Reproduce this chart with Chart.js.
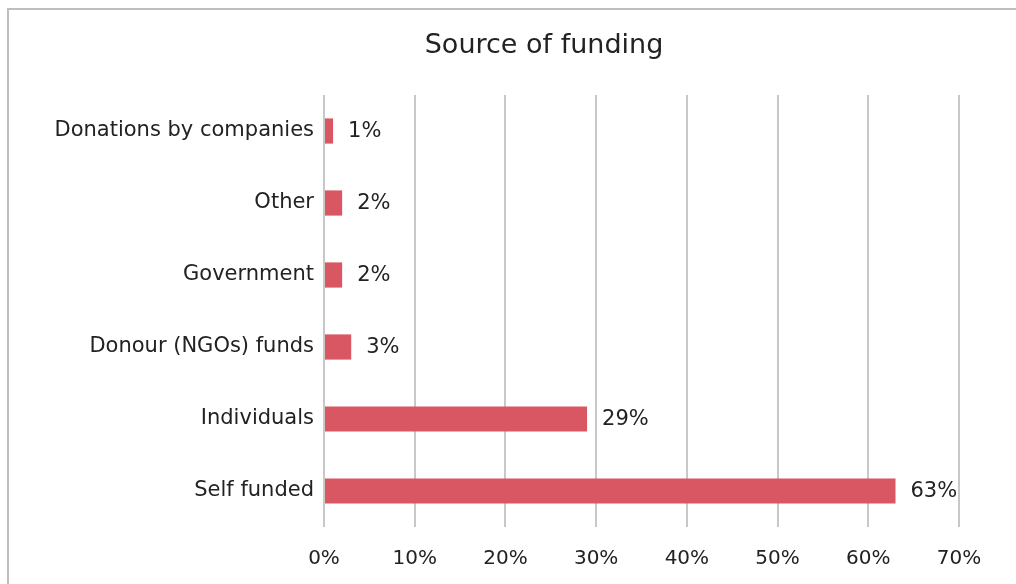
<!DOCTYPE html>
<html>
<head>
<meta charset="utf-8">
<script src="https://cdn.jsdelivr.net/npm/chart.js@4.4.1/dist/chart.umd.min.js"></script>
<style>
  html, body { margin: 0; padding: 0; background: #fff; overflow: hidden; }
  body { width: 1016px; height: 584px; position: relative; }
  #frame {
    position: absolute; left: 7px; top: 8px;
    width: 1074px; height: 600px;
    border: 2px solid #BEBEBE; box-sizing: border-box;
  }
  #wrap { position: absolute; left: 0; top: 0; width: 1070px; height: 596px; }
</style>
</head>
<body>
<div id="frame"><div id="wrap"><canvas id="fundingChart"></canvas></div></div>
<script>
// ── Data ─────────────────────────────────────────────────────────────────────
const chartTitle = 'Source of funding';
const categories = ['Donations by companies', 'Other', 'Government', 'Donour (NGOs) funds', 'Individuals', 'Self funded'];
const shares     = [1, 2, 2, 3, 29, 63];
const xTicks     = [0, 10, 20, 30, 40, 50, 60, 70];

const FONT = '"DejaVu Sans", sans-serif';
const INK  = '#222222';

// title centred on the whole frame, not just the plot
const frameTitle = {
  id: 'frameTitle',
  afterDraw(chart) {
    const ctx = chart.ctx;
    ctx.save();
    ctx.font = '27px ' + FONT;
    ctx.fillStyle = INK;
    ctx.textAlign = 'center';
    ctx.textBaseline = 'middle';
    ctx.fillText(chartTitle, chart.width / 2, 36);
    ctx.restore();
  }
};

// value labels to the right of each bar
const barLabels = {
  id: 'barLabels',
  afterDatasetsDraw(chart) {
    const ctx = chart.ctx;
    const meta = chart.getDatasetMeta(0);
    ctx.save();
    ctx.font = '21px ' + FONT;
    ctx.fillStyle = INK;
    ctx.textAlign = 'left';
    ctx.textBaseline = 'middle';
    meta.data.forEach((bar, i) => {
      ctx.fillText(shares[i] + '%', bar.x + 15, bar.y + 1);
    });
    ctx.restore();
  }
};

const ctx = document.getElementById('fundingChart').getContext('2d');
new Chart(ctx, {
  type: 'bar',
  data: {
    labels: categories,
    datasets: [{
      data: shares,
      backgroundColor: '#D95763',
      borderWidth: 0,
      barPercentage: 1,
      categoryPercentage: 0.35
    }]
  },
  options: {
    indexAxis: 'y',
    responsive: true,
    maintainAspectRatio: false,
    animation: false,
    layout: { padding: { left: 0, right: 120, top: 85, bottom: 0 } },
    scales: {
      x: {
        min: 0,
        max: 70,
        afterBuildTicks: s => { s.ticks = xTicks.map(v => ({ value: v })); },
        afterFit: s => { s.height = 79; },
        ticks: {
          callback: v => v + '%',
          color: INK,
          font: { family: FONT, size: 20 },
          padding: 20,
          maxRotation: 0
        },
        grid: { color: '#C8C8C8', lineWidth: 2, drawTicks: false },
        border: { display: false }
      },
      y: {
        afterFit: s => { s.width = 315; },
        ticks: {
          color: INK,
          font: { family: FONT, size: 21 },
          padding: 10
        },
        grid: { display: false, drawTicks: false },
        border: { display: false }
      }
    },
    plugins: {
      legend: { display: false },
      tooltip: { enabled: false },
      title: { display: false }
    }
  },
  plugins: [barLabels, frameTitle]
});
</script>
</body>
</html>
